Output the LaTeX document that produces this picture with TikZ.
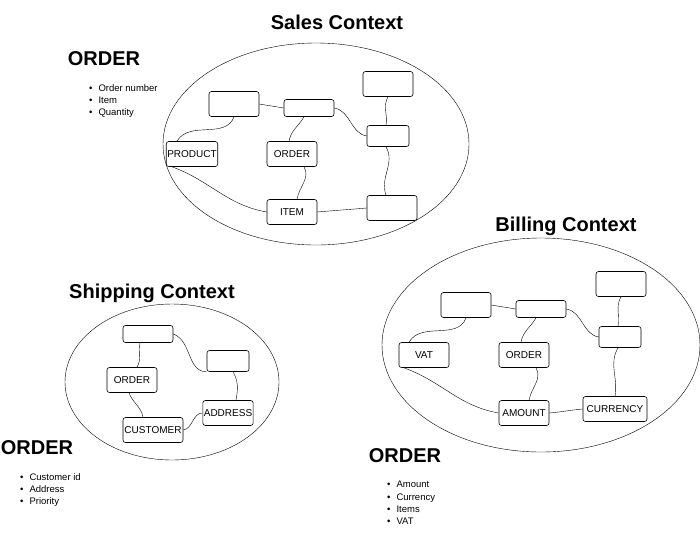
\documentclass[tikz,border=0pt]{standalone}
\usepackage{fontspec}
\setmainfont{Liberation Sans}
\begin{document}
\begin{tikzpicture}[x=1pt,y=-1pt,
  box/.style={draw,semithick,rounded corners=2.5pt,minimum width=50pt,minimum height=25pt,inner sep=1pt,font=\fontsize{10}{12}\selectfont},
  thinbox/.style={box,minimum height=17pt},
  title/.style={font=\bfseries\fontsize{20}{24}\selectfont},
  head/.style={font=\bfseries\fontsize{20}{24}\selectfont},
  bullets/.style={align=left,anchor=north west,inner sep=0pt,font=\fontsize{9.5}{12.3}\selectfont},
  link/.style={draw,thin}]
  \useasboundingbox (0,0) rectangle (700,542);

  % Sales context
  \draw (316,144) ellipse [x radius=153, y radius=101];
  \node[title] at (337,22) {Sales Context};
  \node[head] at (104,59) {ORDER};
  \node[bullets] at (89,84) {\textbullet\hspace{6pt}Order number\\\textbullet\hspace{6pt}Item\\\textbullet\hspace{6pt}Quantity};
  \node[box] (sa) at (234,104) {};
  \node[thinbox] (sb) at (309,108) {};
  \node[box] (sc) at (388,84) {};
  \node[thinbox,minimum width=42pt,minimum height=21pt] (sd) at (388,136) {};
  \node[box] (product) at (192,154) {PRODUCT};
  \node[box] (sorder) at (292,154) {ORDER};
  \node[box] (item) at (292,212) {ITEM};
  \node[box] (se) at (392,208) {};
  \draw[link] (sa.south) to[out=-110,in=60] ([xshift=-15]product.north);
  \draw[link] (sa.east) to[out=-10,in=170] (sb.west);
  \draw[link] ([xshift=-5]sb.south) to[out=-120,in=80] ([xshift=-3]sorder.north);
  \draw[link] (sb.east) to[out=-10,in=170] (sd.west);
  \draw[link] (sc.south) to[out=-120,in=80] ([xshift=-2]sd.north);
  \draw[link] ([xshift=-2]sd.south) to[out=-60,in=110] ([xshift=-6]se.north);
  \draw[link] ([xshift=-20]product.south) to[out=-20,in=170] (item.west);
  \draw[link] ([xshift=12]sorder.south) to[out=-60,in=80] ([xshift=5]item.north);
  \draw[link] (item.east) to[out=5,in=185] (se.west);

  % Billing context
  \draw (541,345) ellipse [x radius=159, y radius=107];
  \node[title] at (566,226) {Billing Context};
  \node[head] at (405,456) {ORDER};
  \node[bullets] at (387,481) {\textbullet\hspace{6pt}Amount\\\textbullet\hspace{6pt}Currency\\\textbullet\hspace{6pt}Items\\\textbullet\hspace{6pt}VAT};
  \node[box] (ba) at (466,305) {};
  \node[thinbox] (bb) at (541,309) {};
  \node[box] (bc) at (621,284) {};
  \node[thinbox,minimum width=42pt,minimum height=21pt] (bd) at (620,337) {};
  \node[box] (vat) at (424,355) {VAT};
  \node[box] (border) at (524,355) {ORDER};
  \node[box] (amount) at (524,413) {AMOUNT};
  \node[box,minimum width=64pt] (currency) at (615,409) {CURRENCY};
  \draw[link] (ba.south) to[out=-110,in=60] ([xshift=-15]vat.north);
  \draw[link] (ba.east) to[out=-10,in=170] (bb.west);
  \draw[link] ([xshift=-5]bb.south) to[out=-120,in=80] ([xshift=-3]border.north);
  \draw[link] (bb.east) to[out=-10,in=170] (bd.west);
  \draw[link] (bc.south) to[out=-120,in=80] ([xshift=-2]bd.north);
  \draw[link] ([xshift=-2]bd.south) to[out=-120,in=80] (currency.north);
  \draw[link] ([xshift=-20]vat.south) to[out=-20,in=170] (amount.west);
  \draw[link] ([xshift=12]border.south) to[out=-60,in=80] ([xshift=5]amount.north);
  \draw[link] (amount.east) to[out=5,in=185] (currency.west);

  % Shipping context
  \draw (172,382) ellipse [x radius=107, y radius=78];
  \node[title] at (152,293) {Shipping Context};
  \node[head] at (37,448) {ORDER};
  \node[bullets] at (20,473) {\textbullet\hspace{6pt}Customer id\\\textbullet\hspace{6pt}Address\\\textbullet\hspace{6pt}Priority};
  \node[thinbox] (ha) at (148,334) {};
  \node[thinbox,minimum width=42pt,minimum height=21pt] (hb) at (228,361) {};
  \node[box] (horder) at (132,380) {ORDER};
  \node[box] (address) at (228,413) {ADDRESS};
  \node[box,minimum width=60pt] (customer) at (153,430) {CUSTOMER};
  \draw[link] ([xshift=-8]ha.south) to[out=-100,in=60] ([xshift=5]horder.north);
  \draw[link] (ha.east) to[out=-20,in=180] (hb.south west);
  \draw[link] ([xshift=5]hb.south) to[out=-60,in=80] ([xshift=8]address.north);
  \draw[link] ([xshift=-3]horder.south) to[out=-70,in=100] ([xshift=-10]customer.north);
  \draw[link] (customer.east) to[out=10,in=180] (address.west);
\end{tikzpicture}
\end{document}
